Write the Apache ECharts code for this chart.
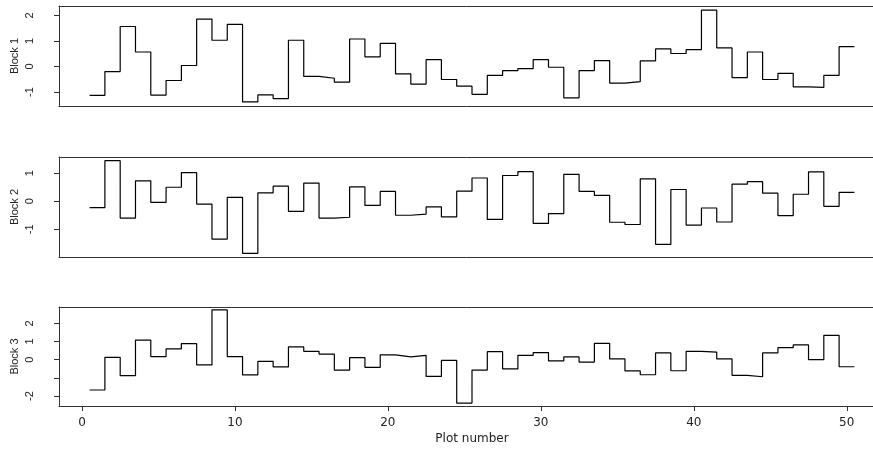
<!DOCTYPE html>
<html>
<head>
<meta charset="utf-8">
<script src="https://cdn.jsdelivr.net/npm/echarts@6/dist/echarts.min.js"></script>
<style>
  html, body { margin: 0; padding: 0; background: #fff; }
  #chart { width: 873px; height: 449px; }
</style>
</head>
<body>
<div id="chart"></div>
<script>
// plot numbers 1..50, one value per plot in each block
const plotNumber = Array.from({ length: 50 }, (_, i) => i + 1);

const block1 = [
  -1.13, -0.2, 1.57, 0.57, -1.12, -0.55, 0.04, 1.86, 1.03, 1.65,
  -1.39, -1.11, -1.26, 1.03, -0.39, -0.46, -0.61, 1.08, 0.38, 0.91,
  -0.29, -0.69, 0.27, -0.51, -0.77, -1.09, -0.35, -0.16, -0.08, 0.27,
  -0.03, -1.23, -0.16, 0.23, -0.65, -0.59, 0.22, 0.69, 0.51, 0.66,
  2.21, 0.73, -0.44, 0.57, -0.51, -0.27, -0.8, -0.82, -0.35, 0.78
];
const block2 = [
  -0.23, 1.45, -0.6, 0.73, -0.04, 0.5, 1.02, -0.1, -1.35, 0.14,
  -1.86, 0.3, 0.54, -0.36, 0.65, -0.6, -0.57, 0.51, -0.15, 0.35,
  -0.5, -0.46, -0.2, -0.56, 0.36, 0.83, -0.65, 0.92, 1.06, -0.79,
  -0.44, 0.96, 0.35, 0.21, -0.75, -0.83, 0.8, -1.54, 0.42, -0.85,
  -0.24, -0.74, 0.61, 0.7, 0.29, -0.51, 0.25, 1.05, -0.18, 0.32
];
const block3 = [
  -1.67, 0.13, -0.88, 1.08, 0.17, 0.59, 0.88, -0.29, 2.74, 0.17,
  -0.84, -0.09, -0.4, 0.7, 0.46, 0.31, -0.57, 0.11, -0.42, 0.26,
  0.15, 0.24, -0.92, -0.04, -2.39, -0.57, 0.44, -0.51, 0.24, 0.39,
  -0.07, 0.15, -0.13, 0.9, 0.04, -0.62, -0.83, 0.37, -0.61, 0.46,
  0.42, 0.04, -0.86, -0.94, 0.37, 0.66, 0.81, 0.0, 1.34, -0.39
];

const blockNames = ['Block 1', 'Block 2', 'Block 3'];
const blocks = [block1, block2, block3];
const yRanges = [[-1.55, 2.375], [-1.99, 1.58], [-2.55, 2.9]];
const yTicks = [[-1, 0, 1, 2], [-1, 0, 1], [-2, -1, 0, 1, 2]];
const yLabels = [[-1, 0, 1, 2], [-1, 0, 1], [-2, 0, 1, 2]];
const xTicks = [0, 10, 20, 30, 40, 50];

const gridTops = [6, 157, 307];
const gridHeights = [100, 100, 99];

// each plot is drawn as a flat step from i-0.5 to i+0.5
function stepData(values) {
  const pts = values.map((v, i) => [plotNumber[i] - 0.5, v]);
  pts.push([plotNumber[plotNumber.length - 1] + 0.5, values[values.length - 1]]);
  return pts;
}

const chart = echarts.init(document.getElementById('chart'), null, { renderer: 'canvas' });

const rotFont = 'Liberation Sans';
const horFont = 'DejaVu Sans';
const boxLine = { show: true, onZero: false, lineStyle: { color: '#333', width: 1 } };

// bottom axes carry ticks/labels (only for the last block); top axes only draw the box edge
const bottomAxes = blocks.map((_, k) => ({
  type: 'value',
  gridIndex: k,
  position: 'bottom',
  min: -1.5,
  max: 52.5,
  splitLine: { show: false },
  axisLine: boxLine,
  axisTick: {
    show: k === 2,
    length: 5,
    lineStyle: { color: '#333' },
    customValues: xTicks
  },
  axisLabel: {
    show: k === 2,
    margin: 11,
    fontFamily: horFont,
    fontSize: 12,
    color: '#222',
    customValues: xTicks
  },
  name: k === 2 ? 'Plot number' : '',
  nameLocation: 'middle',
  nameGap: 27,
  nameMoveOverlap: false,
  nameTextStyle: { fontFamily: horFont, fontSize: 12, color: '#222' }
}));
const topAxes = blocks.map((_, k) => ({
  type: 'value',
  gridIndex: k,
  position: 'top',
  min: -1.5,
  max: 52.5,
  splitLine: { show: false },
  axisLine: boxLine,
  axisTick: { show: false },
  axisLabel: { show: false }
}));

chart.setOption({
  animation: false,
  backgroundColor: '#fff',
  grid: blocks.map((_, k) => ({
    left: 59,
    top: gridTops[k],
    width: 826,
    height: gridHeights[k],
    outerBoundsMode: 'none',
    containLabel: false,
    show: false
  })),
  xAxis: bottomAxes.concat(topAxes),
  yAxis: blocks.map((_, k) => ({
    type: 'value',
    gridIndex: k,
    min: yRanges[k][0],
    max: yRanges[k][1],
    splitLine: { show: false },
    axisLine: boxLine,
    axisTick: {
      show: true,
      length: 5,
      lineStyle: { color: '#333' },
      customValues: yTicks[k]
    },
    axisLabel: {
      rotate: 90,
      margin: 24,
      fontFamily: rotFont,
      fontSize: 11,
      color: '#222',
      customValues: yLabels[k]
    },
    name: blockNames[k],
    nameLocation: 'middle',
    nameGap: 39,
    nameMoveOverlap: false,
    nameTextStyle: { fontFamily: rotFont, fontSize: 11, color: '#222' }
  })),
  series: blocks.map((vals, k) => ({
    type: 'line',
    name: blockNames[k],
    xAxisIndex: k,
    yAxisIndex: k,
    step: 'end',
    symbol: 'none',
    data: stepData(vals),
    lineStyle: { color: '#000', width: 1.2 }
  }))
});
</script>
</body>
</html>
